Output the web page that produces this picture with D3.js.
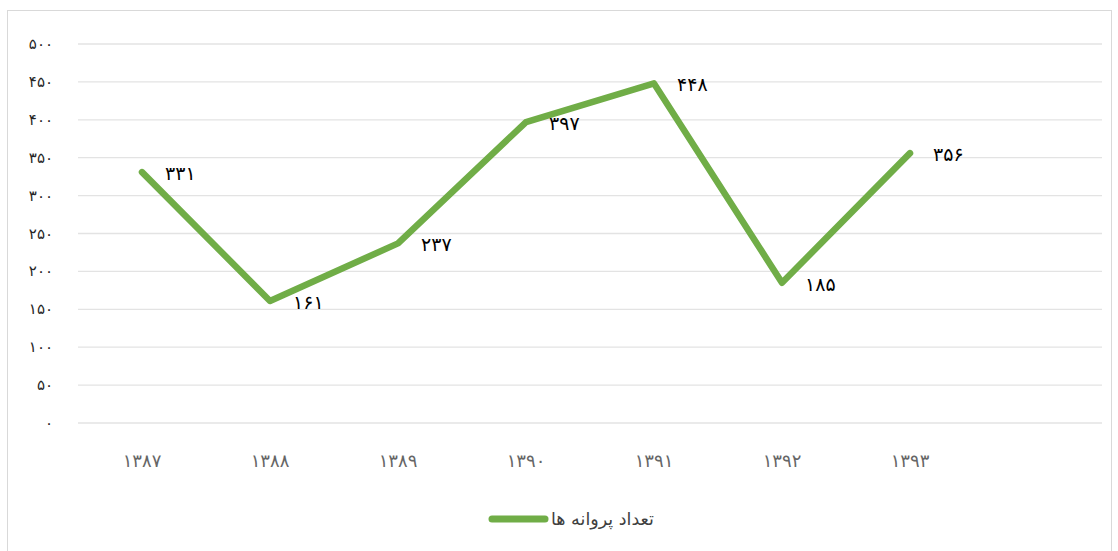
<!DOCTYPE html>
<html><head><meta charset="utf-8">
<script src="https://cdn.jsdelivr.net/npm/d3@7"></script>
<style>body{margin:0;background:#fff}svg{display:block}</style>
</head><body>
<svg id="c" width="1118" height="551"></svg>
<script>
const categories = ["۱۳۸۷","۱۳۸۸","۱۳۸۹","۱۳۹۰","۱۳۹۱","۱۳۹۲","۱۳۹۳",""];
const values = [331,161,237,397,448,185,356];
const valueLabels = ["۳۳۱","۱۶۱","۲۳۷","۳۹۷","۴۴۸","۱۸۵","۳۵۶"];
const yTicks = [0,50,100,150,200,250,300,350,400,450,500];
const yTickLabels = ["۰","۵۰","۱۰۰","۱۵۰","۲۰۰","۲۵۰","۳۰۰","۳۵۰","۴۰۰","۴۵۰","۵۰۰"];
const seriesName = "تعداد پروانه ها";

const font = "'DejaVu Sans', 'Noto Sans', sans-serif";
const svg = d3.select("#c");
svg.append("rect").attr("x",7.5).attr("y",10.5).attr("width",1104).attr("height",545)
  .attr("fill","#fff").attr("stroke","#d9d9d9");

const x = d3.scaleBand().domain(d3.range(categories.length)).range([78,1102]);
const y = d3.scaleLinear().domain([0,500]).range([423,44]);

const g = svg.append("g");
g.selectAll("line.grid").data(yTicks).enter().append("line")
  .attr("x1",78).attr("x2",1102).attr("y1",d=>y(d)).attr("y2",d=>y(d))
  .attr("stroke","#e3e3e3").attr("stroke-width",1.3);

g.selectAll("text.yt").data(yTicks).enter().append("text")
  .attr("x",53).attr("y",d=>y(d)+5).attr("text-anchor","end")
  .attr("font-family",font).attr("font-size",15).attr("fill","#262626")
  .text((d,i)=>yTickLabels[i]);

g.selectAll("text.xt").data(categories).enter().append("text")
  .attr("x",(d,i)=>x(i)+x.bandwidth()/2).attr("y",467).attr("text-anchor","middle")
  .attr("font-family",font).attr("font-size",18).attr("fill","#666")
  .text(d=>d);

const line = d3.line().x((d,i)=>x(i)+x.bandwidth()/2).y(d=>y(d));
g.append("path").datum(values).attr("d",line).attr("fill","none")
  .attr("stroke","#70ad47").attr("stroke-width",6.5)
  .attr("stroke-linejoin","round").attr("stroke-linecap","round");

g.selectAll("text.vl").data(values).enter().append("text")
  .attr("x",(d,i)=>x(i)+x.bandwidth()/2+23).attr("y",d=>y(d)+8)
  .attr("font-family",font).attr("font-size",19).attr("fill","#000")
  .text((d,i)=>valueLabels[i]);

svg.append("line").attr("x1",492).attr("x2",545).attr("y1",519).attr("y2",519)
  .attr("stroke","#70ad47").attr("stroke-width",7).attr("stroke-linecap","round");
svg.append("text").attr("x",551).attr("y",525).attr("direction","rtl").attr("text-anchor","end")
  .attr("font-family",font).attr("font-size",17.5).attr("fill","#404040")
  .text(seriesName);
</script>
</body></html>
